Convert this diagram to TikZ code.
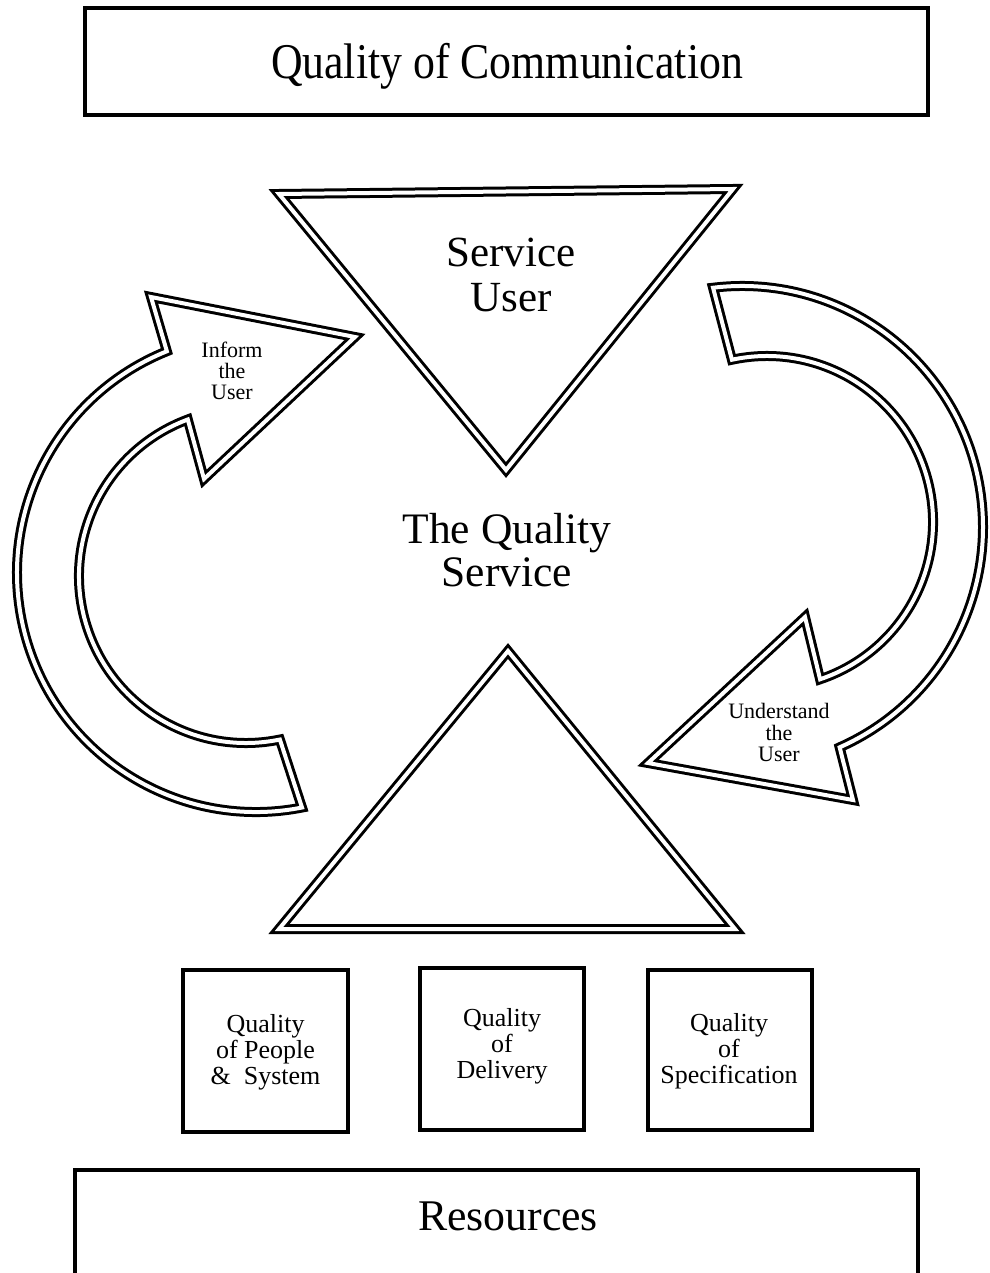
\documentclass[tikz,border=0pt]{standalone}
\usepackage{fontspec}
\setmainfont{Liberation Serif}
\newfontfamily\tallserif[FakeStretch=0.876]{Liberation Serif}
\usetikzlibrary{calc}
\tikzset{
  dbl/.style={draw=black, line width=3pt, double=white, double distance=4pt, line join=miter, miter limit=10},
  heavybox/.style={draw=black, line width=4pt, inner sep=0pt},
  tallbig/.style={font=\tallserif\fontsize{50}{50}\selectfont, inner sep=0pt},
  bigtext/.style={font=\fontsize{43.5}{44}\selectfont, align=center, inner sep=0pt},
  smalltext/.style={font=\fontsize{22}{21.3}\selectfont, align=center, inner sep=0pt},
  boxtext/.style={font=\fontsize{26}{26}\selectfont, align=center, inner sep=0pt},
}
\begin{document}
\begin{tikzpicture}[x=1pt,y=-1pt]
\useasboundingbox (0,0) rectangle (989,1273);
\clip (0,0) rectangle (989,1273);

% top box
\node[heavybox, minimum width=843pt, minimum height=107pt] (commbox) at (506.5,61.5) {};
\node[tallbig] (commtxt) at (507,66.5) {Quality of Communication};

% triangles
\coordinate (dtl) at (279,194);
\coordinate (dtr) at (733,189);
\coordinate (dtb) at (506,470);
\draw[dbl] (dtl) -- (dtr) -- (dtb) -- cycle;
\node[bigtext, font=\fontsize{43}{45}\selectfont] (user) at (511,275) {Service\\User};

\coordinate (uta) at (508,651);
\coordinate (utr) at (735,929);
\coordinate (utl) at (279,929);
\draw[dbl] (uta) -- (utr) -- (utl) -- cycle;

\node[bigtext, font=\fontsize{43.5}{43}\selectfont] (qservice) at (507,550.5) {The Quality\\Service};

% left curved arrow
\coordinate (loc) at (256,573);
\coordinate (lic) at (246,576);
\coordinate (lhtop) at (151,297);
\coordinate (lhtip) at (355,337);
\coordinate (lhbot) at (204,479);
\draw[dbl] ($(loc)+(281.1:239pt)$) arc[start angle=281.1, end angle=111.9, radius=239pt]
  -- (lhtop) -- (lhtip) -- (lhbot)
  -- ($(lic)+(110.4:167pt)$) arc[start angle=110.4, end angle=281.7, radius=167pt] -- cycle;
\node[smalltext] (inform) at (232,371) {Inform\\the\\User};

% right curved arrow
\coordinate (roc) at (742,527);
\coordinate (ric) at (767,522);
\coordinate (rhbot) at (853,800);
\coordinate (rhtip) at (648,763);
\coordinate (rhtop) at (805,617);
\draw[dbl] ($(roc)+(96.9:241pt)$) arc[start angle=96.9, end angle=-66.1, radius=241pt]
  -- (rhbot) -- (rhtip) -- (rhtop)
  -- ($(ric)+(-71.35:166pt)$) arc[start angle=-71.35, end angle=102.2, radius=166pt] -- cycle;
\node[smalltext] (understand) at (779,732.5) {Understand\\the\\User};

% three quality boxes
\node[heavybox, minimum width=165pt, minimum height=162pt] (peoplebox) at (265.5,1051) {};
\node[boxtext] (peopletxt) at (265.5,1052) {Quality\\of People\\\&\ \ System};
\node[heavybox, minimum width=164pt, minimum height=162pt] (deliverybox) at (502,1049) {};
\node[boxtext] (deliverytxt) at (502,1046) {Quality\\of\\Delivery};
\node[heavybox, minimum width=164pt, minimum height=160pt] (specbox) at (730,1050) {};
\node[boxtext] (spectxt) at (729,1051) {Quality\\of\\Specification};

% resources box
\node[heavybox, minimum width=843pt, minimum height=120pt] (resbox) at (496.5,1230) {};
\node[bigtext, font=\fontsize{43.8}{44}\selectfont] (restxt) at (508,1216) {Resources};
\end{tikzpicture}
\end{document}
